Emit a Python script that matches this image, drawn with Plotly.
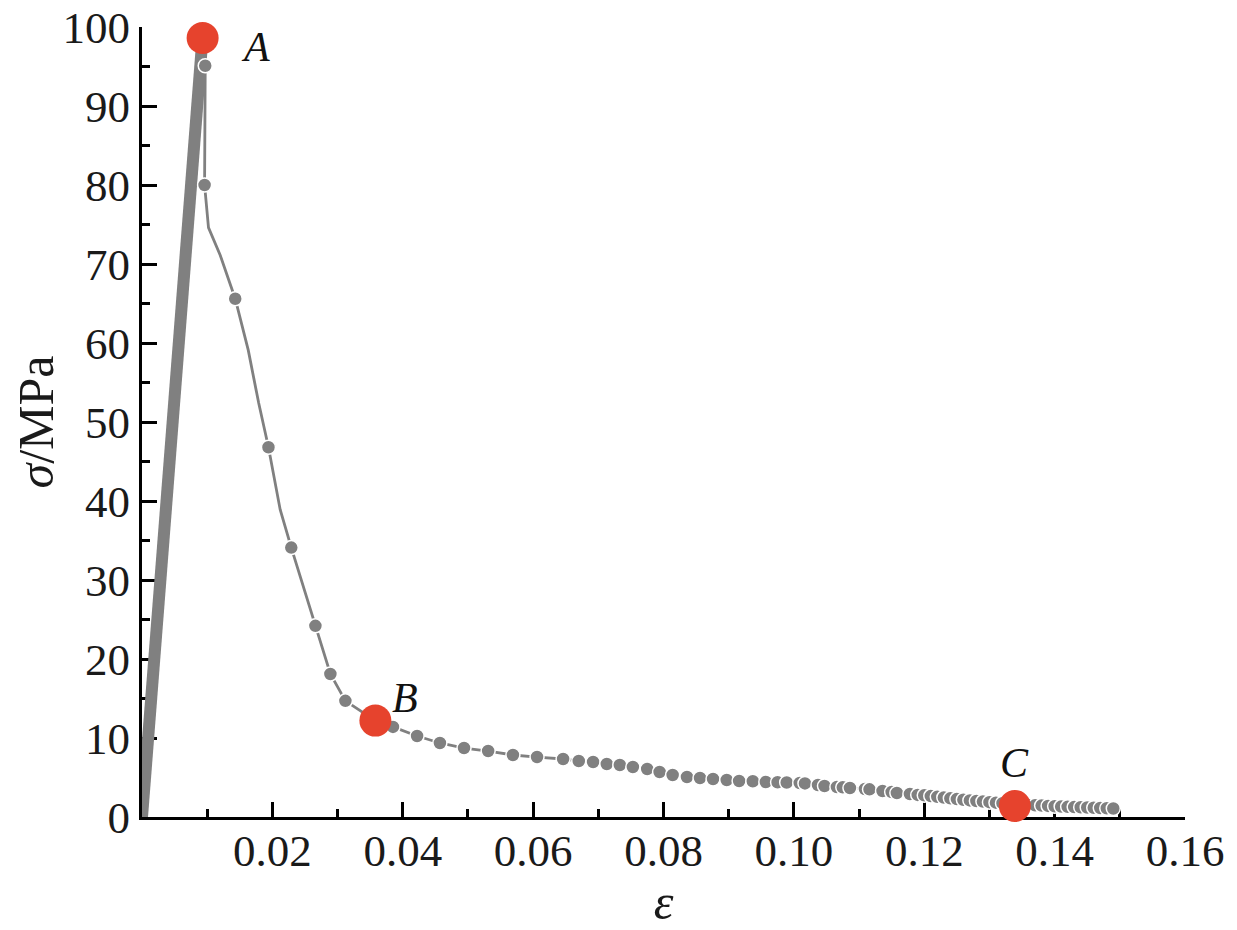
import plotly.graph_objects as go

# rising (elastic) branch, drawn as a heavy band
rise_eps = [0.0, 0.0092]
rise_sigma = [0.0, 97.8]

# post-peak curve; marked = point carries a dot
curve_eps = [0.0091, 0.0097, 0.0096, 0.0102, 0.0120, 0.0143, 0.0163, 0.0179, 0.0194,
             0.0212, 0.0229, 0.0266, 0.0289, 0.0312, 0.0358, 0.0385, 0.0422, 0.0457,
             0.0494, 0.0531, 0.0569, 0.0606, 0.0646, 0.0670, 0.0692, 0.0713, 0.0733,
             0.0753, 0.0775, 0.0794, 0.0814, 0.0836, 0.0856, 0.0876, 0.0897, 0.0916,
             0.0937, 0.0957, 0.0975, 0.0989, 0.1009, 0.1017, 0.1037, 0.1047, 0.1066,
             0.1075, 0.1086, 0.1109, 0.1116, 0.1136, 0.1150, 0.1158, 0.1178, 0.1190,
             0.120, 0.121, 0.122, 0.123, 0.124, 0.125, 0.126, 0.127, 0.128, 0.129,
             0.130, 0.131, 0.132, 0.133, 0.134, 0.135, 0.136, 0.137, 0.138, 0.139,
             0.140, 0.141, 0.142, 0.143, 0.144, 0.145, 0.146, 0.147, 0.148, 0.149]
curve_sigma = [97.7, 95.1, 80.0, 74.6, 71.1, 65.6, 59.1, 52.4, 46.8,
               38.9, 34.1, 24.2, 18.1, 14.7, 12.2, 11.4, 10.25, 9.37,
               8.73, 8.35, 7.85, 7.59, 7.34, 7.09, 6.96, 6.71, 6.58,
               6.33, 6.08, 5.70, 5.32, 5.06, 4.94, 4.81, 4.68, 4.56,
               4.52, 4.43, 4.40, 4.37, 4.30, 4.25, 4.05, 3.92, 3.80,
               3.76, 3.67, 3.54, 3.50, 3.29, 3.16, 3.04, 2.91, 2.80,
               2.74, 2.65, 2.55, 2.46, 2.36, 2.27, 2.18, 2.10, 2.02, 1.95,
               1.88, 1.81, 1.75, 1.69, 1.63, 1.58, 1.53, 1.48, 1.44, 1.40,
               1.36, 1.32, 1.29, 1.26, 1.23, 1.20, 1.17, 1.14, 1.11, 1.08]
marked = [0, 1, 1, 0, 0, 1, 0, 0, 1,
          0, 1, 1, 1, 1, 0, 1, 1, 1] + [1] * 66

# characteristic points
key_labels = ['A', 'B', 'C']
key_eps = [0.0093, 0.0358, 0.1339]
key_sigma = [98.6, 12.2, 1.4]
label_shift = [(53, -9), (30, 23), (0, 43)]

x_tickvals = [0.02, 0.04, 0.06, 0.08, 0.10, 0.12, 0.14, 0.16]
x_ticktext = ['0.02', '0.04', '0.06', '0.08', '0.10', '0.12', '0.14', '0.16']

GRAY = '#808080'
RED = '#E6432D'
SERIF = '"Times New Roman", "Liberation Serif", Tinos, serif'

dot_eps = [e for e, m in zip(curve_eps, marked) if m]
dot_sigma = [s for s, m in zip(curve_sigma, marked) if m]

fig = go.Figure()

fig.add_trace(go.Scatter(
    x=rise_eps, y=rise_sigma, mode='lines',
    line=dict(color=GRAY, width=12), hoverinfo='skip'
))

fig.add_trace(go.Scatter(
    x=curve_eps, y=curve_sigma, mode='lines',
    line=dict(color=GRAY, width=2.8)
))

fig.add_trace(go.Scatter(
    x=dot_eps, y=dot_sigma, mode='markers',
    marker=dict(color=GRAY, size=14, line=dict(color='white', width=1.5)),
    cliponaxis=False
))

fig.add_trace(go.Scatter(
    x=key_eps, y=key_sigma, mode='markers',
    marker=dict(color=RED, size=32),
    cliponaxis=False
))

for lab, ex, sy, (dx, dy) in zip(key_labels, key_eps, key_sigma, label_shift):
    fig.add_annotation(
        x=ex, y=sy, text=f'<i>{lab}</i>', showarrow=False,
        xshift=dx, yshift=dy,
        font=dict(family=SERIF, size=42, color='#111')
    )

axis_common = dict(
    showline=True, linecolor='black', linewidth=3,
    ticks='inside', ticklen=15, tickwidth=3, tickcolor='black',
    showgrid=False, zeroline=False, layer='below traces', automargin=False,
    ticklabeloverflow='allow',
    tickfont=dict(family=SERIF, size=45, color='#1a1a1a'),
)

fig.update_xaxes(
    range=[0, 0.16], tickmode='array', tickvals=x_tickvals, ticktext=x_ticktext,
    ticklabelstandoff=-8,
    minor=dict(dtick=0.01, tick0=0, ticks='inside', ticklen=8, tickwidth=2.5,
               tickcolor='black'),
    title=dict(text='<i>ε</i>', font=dict(family=SERIF, size=50,
                                         color='#1a1a1a'), standoff=6),
    **axis_common
)

fig.update_yaxes(
    range=[0, 100], tickmode='linear', tick0=0, dtick=10,
    minor=dict(dtick=5, tick0=0, ticks='inside', ticklen=8, tickwidth=2.5,
               tickcolor='black'),
    title=dict(text='<i>σ</i>/MPa', font=dict(family=SERIF, size=50,
                                             color='#1a1a1a'), standoff=12),
    **axis_common
)

# the page adds an 8px body margin, so the figure is sized to fit inside it
fig.update_layout(
    width=1229, height=922,
    margin=dict(l=134, r=52, t=19, b=113),
    plot_bgcolor='white', paper_bgcolor='white',
    showlegend=False,
)

fig.write_html("out.html")
